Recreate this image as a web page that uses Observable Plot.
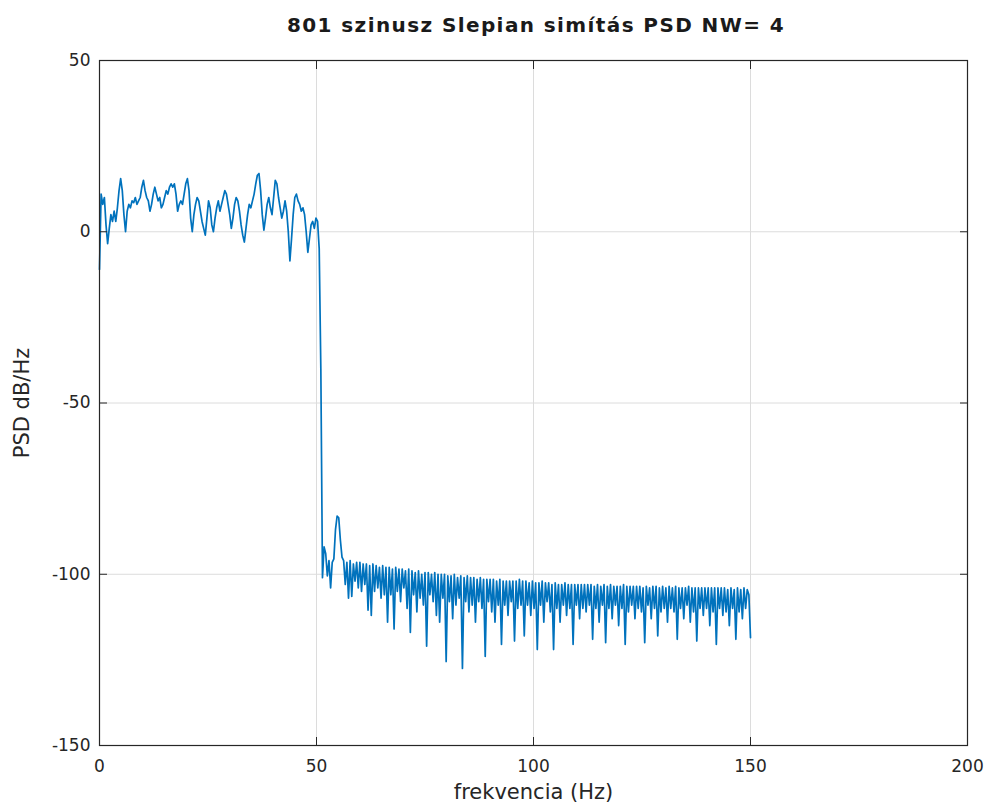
<!DOCTYPE html>
<html>
<head>
<meta charset="utf-8">
<script src="https://cdn.jsdelivr.net/npm/d3@7"></script>
<script src="https://cdn.jsdelivr.net/npm/@observablehq/plot@0.6"></script>
<style>
  body { margin: 0; background: #fff; font-family: "DejaVu Sans", sans-serif; }
  #title { height: 48px; width: 990px; font-weight: bold; font-size: 20px; letter-spacing: 1.4px; color: #1a1a1a; position: relative; }
  #title span { position: absolute; left: 536px; transform: translateX(-50%); white-space: nowrap; top: 13px; }
</style>
</head>
<body>
<div id="title"><span id="titleText"></span></div>
<div id="chart"></div>
<script>
const titleText = "801 szinusz Slepian simítás PSD NW= 4";
const xLabel = "frekvencia (Hz)";
const yLabel = "PSD dB/Hz";
const xTicks = [0, 50, 100, 150, 200];
const yTicks = [-150, -100, -50, 0, 50];
const df = 0.375; // frequency resolution (Hz per bin)

// PSD values (dB/Hz), one per frequency bin starting at 0 Hz
const psdPass = [
 -11, 11, 8, 10, 2, -3.5, 1, 5, 3, 6,
 3, 7, 12, 15.5, 12, 5, 0, 6, 8, 7,
 9, 8.5, 10, 8, 9, 10, 13, 15, 12, 10,
 9, 6, 8, 11, 13, 11, 9, 10, 7, 8,
 10, 12, 11, 13, 14, 13, 14, 11, 6, 8,
 9, 8, 11, 14, 15.5, 12, 4, 0, 5, 8,
 10, 9, 6, 3, 1, -1, 4, 9, 7, 2,
 0, 4, 7, 9, 6, 8, 10, 12, 11, 8,
 5, 1, 4, 8, 10, 9, 6, 2, -1, -3,
 1, 5, 8, 7, 9, 11, 14, 16.5, 17, 12,
 5, 0.5, 4, 8, 10, 7, 5, 10, 15, 14,
 10, 7, 4, 6, 9, 6, 0, -8.5, -2, 5,
 10, 11, 9, 8, 6, 7, 5, 0, -6, -2,
 2, 3, 1, 4, 3
];
const psdTransition = [
 -5, -40, -101, -92, -94, -100.5, -96, -104, -96.5, -95.5,
 -87, -83, -83.5, -90, -95
];
const psdStop = [
 -96, -103, -96.5, -107, -96, -106.5, -97, -102, -96.5, -104,
 -96.5, -105, -97, -103, -97, -110.5, -97.5, -112, -97, -105,
 -97.5, -104, -98, -107, -97.5, -106, -98, -114, -98, -106,
 -98.5, -116, -98, -105, -98.5, -108, -98.5, -104, -99, -110,
 -98.5, -117, -99, -106, -99.5, -111, -99, -107, -100, -109,
 -99.5, -121, -99.5, -106, -100, -108, -99.5, -112, -100, -114,
 -100, -107, -100, -125.5, -100.5, -108, -100.5, -113, -100, -109,
 -101, -107, -100.5, -127.5, -101, -108, -100.5, -111, -101, -109,
 -101, -114, -101.5, -108, -101, -110, -101.5, -124, -101.5, -108,
 -101.5, -111, -101.5, -114, -102, -109, -101.5, -120.5, -102, -109,
 -102, -112, -102, -108, -102, -119.5, -102, -110, -101.5, -109,
 -102, -118, -102, -109, -102.5, -112, -102, -110, -102.5, -122,
 -102.5, -109, -102, -114, -102.5, -108, -102.5, -111, -103, -122,
 -102.5, -110, -103, -114, -103, -109, -102.5, -112, -103, -110,
 -103, -120.5, -103, -109, -103, -113, -103, -110, -103, -111,
 -103, -109, -103, -119, -103.5, -110, -103, -114, -103.5, -109,
 -103, -120, -103.5, -110, -103, -113, -103.5, -109, -103.5, -115,
 -103.5, -110, -103, -120.5, -103.5, -111, -103.5, -109, -103.5, -113,
 -103.5, -110, -103.5, -111, -104, -120, -103.5, -109, -104, -113,
 -103.5, -110, -103.5, -118, -104, -111, -103.5, -110, -104, -114,
 -103.5, -110, -104, -111, -103.5, -119, -104, -110, -104, -113,
 -104, -109, -103.5, -114, -104, -111, -104, -119.5, -104, -110,
 -104, -112, -104, -110, -104, -115, -104, -111, -104, -120.5,
 -104, -110, -104, -112, -104, -111, -104.5, -115, -104, -110,
 -104.5, -119, -104, -111, -104.5, -113, -104, -110, -104.5, -106,
 -118.5
];

const psd = [...psdPass, ...psdTransition, ...psdStop];
const data = psd.map((v, i) => ({f: i * df, v}));

document.getElementById("titleText").textContent = titleText;

const textColor = "#262626";
const fmt = d => String(d);
const chart = Plot.plot({
  width: 990,
  height: 759,
  marginTop: 12,
  marginLeft: 99,
  marginRight: 23,
  marginBottom: 62,
  style: {fontFamily: "DejaVu Sans, sans-serif", fontSize: "17px", color: textColor, background: "#fff"},
  x: {domain: [0, 200], ticks: xTicks},
  y: {domain: [-150, 50], ticks: yTicks},
  marks: [
    Plot.gridX(xTicks, {stroke: "#dcdcdc", strokeOpacity: 1, strokeWidth: 1}),
    Plot.gridY(yTicks, {stroke: "#dcdcdc", strokeOpacity: 1, strokeWidth: 1}),
    Plot.line(data, {x: "f", y: "v", stroke: "#0072BD", strokeWidth: 1.7}),
    Plot.frame({stroke: textColor, strokeWidth: 1.2}),
    Plot.axisX(xTicks, {tickSize: 0, tickPadding: 14, tickFormat: fmt, label: null, fontSize: 17}),
    Plot.axisX(xTicks, {tickSize: -8, text: null, label: null, stroke: textColor}),
    Plot.axisX(xTicks, {anchor: "top", tickSize: -8, text: null, label: null, stroke: textColor}),
    Plot.axisY(yTicks, {tickSize: 0, tickPadding: 9, tickFormat: fmt, label: null, fontSize: 17}),
    Plot.axisY(yTicks, {tickSize: -8, text: null, label: null, stroke: textColor}),
    Plot.axisY(yTicks, {anchor: "right", tickSize: -8, text: null, label: null, stroke: textColor}),
    Plot.text([xLabel], {frameAnchor: "bottom", dy: 53, text: d => d, fontSize: 21, fill: textColor}),
    Plot.text([yLabel], {frameAnchor: "left", dx: -77, rotate: -90, textAnchor: "middle", text: d => d, fontSize: 21, fill: textColor})
  ]
});
document.getElementById("chart").appendChild(chart);
</script>
</body>
</html>
